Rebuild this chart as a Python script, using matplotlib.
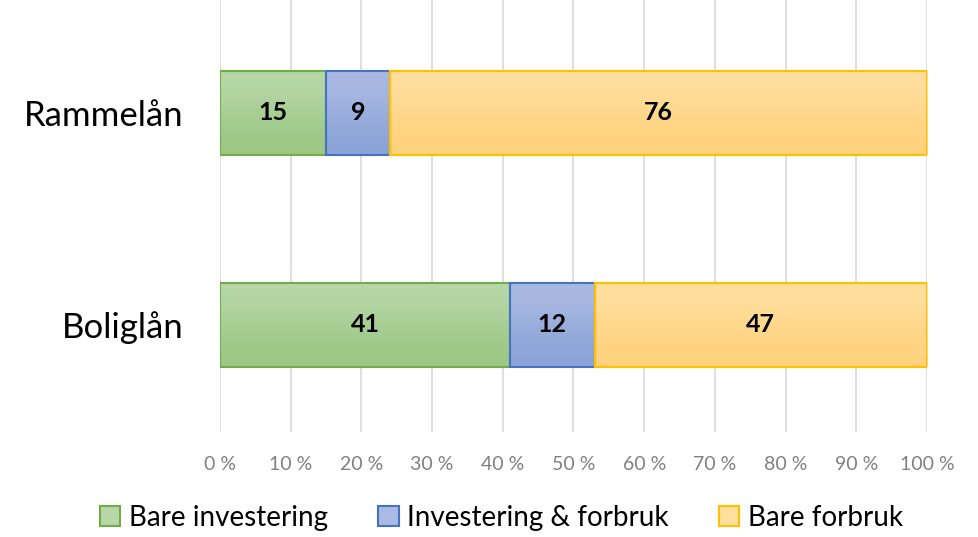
import matplotlib.pyplot as plt
import numpy as np
from matplotlib.patches import Patch
from matplotlib.colors import to_rgb

categories = ["Boliglån", "Rammelån"]
series = ["Bare investering", "Investering & forbruk", "Bare forbruk"]
bare_investering = [41, 15]
investering_forbruk = [12, 9]
bare_forbruk = [47, 76]
values = [bare_investering, investering_forbruk, bare_forbruk]

# gradient top/bottom colours and border colour per series
top_colors = ["#b7d7a8", "#abbae2", "#ffdf9f"]
bottom_colors = ["#9cc783", "#8aa3d8", "#ffd27c"]
edge_colors = ["#70ad47", "#4472c4", "#ffc000"]

plt.rcParams['font.family'] = ['Lato', 'DejaVu Sans']

fig = plt.figure(figsize=(9.79, 5.37), dpi=100)
ax = fig.add_axes([220 / 979, 1 - 432 / 537, 707 / 979, 432 / 537])

y = np.arange(len(categories))
h = 0.4
left = np.zeros(len(categories))
for i, vals in enumerate(values):
    bars = ax.barh(y, vals, left=left, height=h, facecolor="none",
                   edgecolor=edge_colors[i], linewidth=1.5, zorder=3)
    grad = np.array([[to_rgb(top_colors[i])], [to_rgb(bottom_colors[i])]])
    for b in bars:
        x0, y0 = b.get_x(), b.get_y()
        im = ax.imshow(grad, extent=(x0, x0 + b.get_width(), y0, y0 + b.get_height()),
                       aspect="auto", interpolation="bicubic", zorder=2)
        im.set_clip_path(b)
    for j, v in enumerate(vals):
        ax.text(left[j] + v / 2, y[j], str(v), ha="center", va="center",
                fontsize=18, fontweight="bold", zorder=4)
    left += np.array(vals)

ax.set_xlim(0, 100)
ax.set_ylim(-0.505, 1.533)
ax.set_xticks(np.arange(0, 101, 10))
ax.set_xticklabels([f"{t} %" for t in range(0, 101, 10)], color="#808080", fontsize=14)
ax.set_yticks(y)
ax.set_yticklabels(categories, fontsize=25)
ax.tick_params(axis="x", length=0, pad=17)
ax.tick_params(axis="y", length=0, pad=26)
ax.grid(axis="x", color="#d9d9d9", linewidth=1.2, zorder=0)
ax.set_axisbelow(True)
for s in ax.spines.values():
    s.set_visible(False)

handles = [Patch(facecolor=top_colors[i], edgecolor=edge_colors[i], linewidth=1.5)
           for i in range(3)]
fig.legend(handles, series, loc="center", bbox_to_anchor=(0.512, 1 - 518 / 537),
           ncol=3, frameon=False, fontsize=20, handlelength=0.75, handleheight=0.75,
           handletextpad=0.3, columnspacing=1.8)

fig.savefig("out.png", dpi=100)
